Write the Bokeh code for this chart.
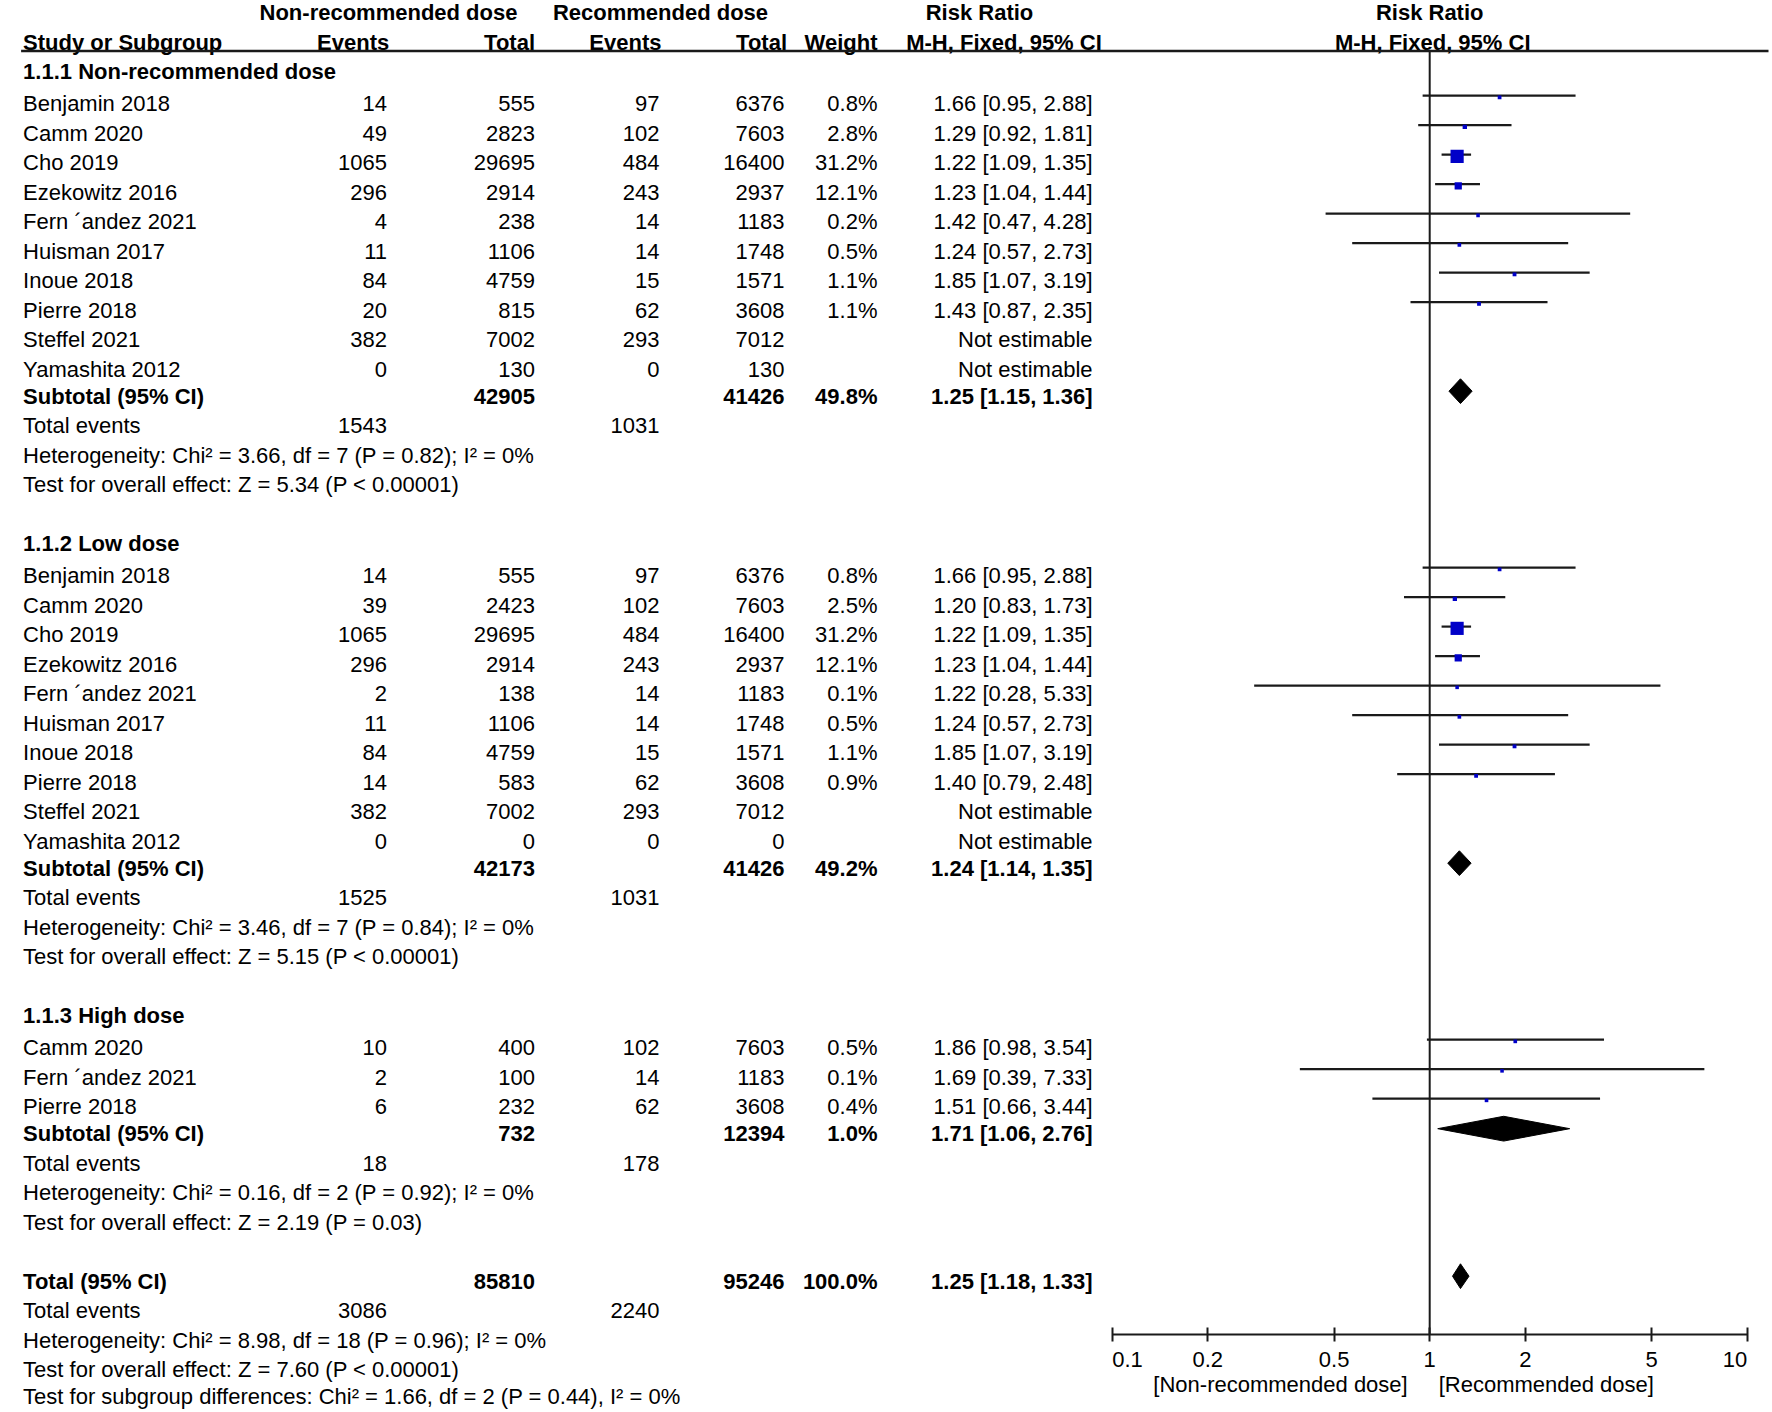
from bokeh.plotting import figure
from bokeh.models import Range1d, LogScale, LogAxis, FixedTicker
from bokeh.core.properties import value
from bokeh.embed import file_html
from bokeh.resources import INLINE

# ---------------- data ----------------
COL_GROUPS = ["Non-recommended dose", "Recommended dose"]
COL_HEADS = ["Study or Subgroup", "Events", "Total", "Events", "Total", "Weight"]
RR_HEAD = ["Risk Ratio", "M-H, Fixed, 95% CI"]

g1_title = "1.1.1 Non-recommended dose"
g1_study = ["Benjamin 2018", "Camm 2020", "Cho 2019", "Ezekowitz 2016", "Fern \u00b4andez 2021",
            "Huisman 2017", "Inoue 2018", "Pierre 2018", "Steffel 2021", "Yamashita 2012"]
g1_e1 = [14, 49, 1065, 296, 4, 11, 84, 20, 382, 0]
g1_n1 = [555, 2823, 29695, 2914, 238, 1106, 4759, 815, 7002, 130]
g1_e2 = [97, 102, 484, 243, 14, 14, 15, 62, 293, 0]
g1_n2 = [6376, 7603, 16400, 2937, 1183, 1748, 1571, 3608, 7012, 130]
g1_w = [0.8, 2.8, 31.2, 12.1, 0.2, 0.5, 1.1, 1.1, None, None]
g1_rr = [1.66, 1.29, 1.22, 1.23, 1.42, 1.24, 1.85, 1.43, None, None]
g1_lo = [0.95, 0.92, 1.09, 1.04, 0.47, 0.57, 1.07, 0.87, None, None]
g1_hi = [2.88, 1.81, 1.35, 1.44, 4.28, 2.73, 3.19, 2.35, None, None]
g1_sub = [42905, 41426, 49.8, 1.25, 1.15, 1.36]
g1_events = [1543, 1031]
g1_het = "Heterogeneity: Chi\u00b2 = 3.66, df = 7 (P = 0.82); I\u00b2 = 0%"
g1_test = "Test for overall effect: Z = 5.34 (P < 0.00001)"

g2_title = "1.1.2 Low dose"
g2_study = ["Benjamin 2018", "Camm 2020", "Cho 2019", "Ezekowitz 2016", "Fern \u00b4andez 2021",
            "Huisman 2017", "Inoue 2018", "Pierre 2018", "Steffel 2021", "Yamashita 2012"]
g2_e1 = [14, 39, 1065, 296, 2, 11, 84, 14, 382, 0]
g2_n1 = [555, 2423, 29695, 2914, 138, 1106, 4759, 583, 7002, 0]
g2_e2 = [97, 102, 484, 243, 14, 14, 15, 62, 293, 0]
g2_n2 = [6376, 7603, 16400, 2937, 1183, 1748, 1571, 3608, 7012, 0]
g2_w = [0.8, 2.5, 31.2, 12.1, 0.1, 0.5, 1.1, 0.9, None, None]
g2_rr = [1.66, 1.20, 1.22, 1.23, 1.22, 1.24, 1.85, 1.40, None, None]
g2_lo = [0.95, 0.83, 1.09, 1.04, 0.28, 0.57, 1.07, 0.79, None, None]
g2_hi = [2.88, 1.73, 1.35, 1.44, 5.33, 2.73, 3.19, 2.48, None, None]
g2_sub = [42173, 41426, 49.2, 1.24, 1.14, 1.35]
g2_events = [1525, 1031]
g2_het = "Heterogeneity: Chi\u00b2 = 3.46, df = 7 (P = 0.84); I\u00b2 = 0%"
g2_test = "Test for overall effect: Z = 5.15 (P < 0.00001)"

g3_title = "1.1.3 High dose"
g3_study = ["Camm 2020", "Fern \u00b4andez 2021", "Pierre 2018"]
g3_e1 = [10, 2, 6]
g3_n1 = [400, 100, 232]
g3_e2 = [102, 14, 62]
g3_n2 = [7603, 1183, 3608]
g3_w = [0.5, 0.1, 0.4]
g3_rr = [1.86, 1.69, 1.51]
g3_lo = [0.98, 0.39, 0.66]
g3_hi = [3.54, 7.33, 3.44]
g3_sub = [732, 12394, 1.0, 1.71, 1.06, 2.76]
g3_events = [18, 178]
g3_het = "Heterogeneity: Chi\u00b2 = 0.16, df = 2 (P = 0.92); I\u00b2 = 0%"
g3_test = "Test for overall effect: Z = 2.19 (P = 0.03)"

tot_title = "Total (95% CI)"
tot_sub = [85810, 95246, 100.0, 1.25, 1.18, 1.33]
tot_events = [3086, 2240]
tot_het = "Heterogeneity: Chi\u00b2 = 8.98, df = 18 (P = 0.96); I\u00b2 = 0%"
tot_test = "Test for overall effect: Z = 7.60 (P < 0.00001)"
tot_diff = "Test for subgroup differences: Chi\u00b2 = 1.66, df = 2 (P = 0.44), I\u00b2 = 0%"

NULL_RR = 1
TICKS = [0.1, 0.2, 0.5, 1, 2, 5, 10]
TICK_LABELS = ["0.1", "0.2", "0.5", "1", "2", "5", "10"]
FAVOURS = ["[Non-recommended dose]", "[Recommended dose]"]

# ---------------- layout / style ----------------
FONT = "Liberation Sans"
FS = "22px"
TXT = "#000000"
LINE = "#1a1a1a"
BLUE = "#0000c8"
NBSP = "\u00a0"

X_LEFT, X_RIGHT = 0, 1772          # pixel span of the canvas
Y_TOP, Y_BOT = 0, 1412
ROW0_Y, ROW_H = 71.2, 29.5         # pixel y of row 0 and row pitch
X_ONE, PX_DEC = 1429.2, 317.5      # pixel x of RR=1 and pixels per decade

NAME_X = 22.6
COL_X = [386.5, 534.5, 659.0, 784.0, 877.0]   # right edges: events, total, events, total, weight
CI_X = 1092.0
HEAD_COL_X = [388.7, 534.5, 661.0, 786.5, 877.0]
GROUP_CX = [388.0, 660.0]
RR_CX = [979.0, 1003.5]

STUDY_DY = 0.08
MARK_DY = -0.27
SQ_DY = 0.06
DIA_DY = -0.17
DIA_H = 0.42
HEAD_LINE_ROW = -0.70
AXIS_ROW = 42.8
FAV_ROW = 44.5
LAST_DY = -0.1

p = figure(width=X_RIGHT - X_LEFT, height=Y_BOT - Y_TOP,
           x_range=Range1d(X_LEFT, X_RIGHT),
           y_range=Range1d((Y_BOT - ROW0_Y) / ROW_H, (Y_TOP - ROW0_Y) / ROW_H),
           output_backend="svg", toolbar_location=None,
           x_axis_location=None, y_axis_location=None, min_border=0)
p.outline_line_color = None
p.xgrid.visible = False
p.ygrid.visible = False
p.background_fill_color = "white"
p.border_fill_color = "white"

p.extra_x_ranges = {"rr": Range1d(10 ** ((X_LEFT - X_ONE) / PX_DEC), 10 ** ((X_RIGHT - X_ONE) / PX_DEC))}
p.extra_x_scales = {"rr": LogScale()}

texts = {}


def add_text(x, y, t, align="left", style="normal"):
    d = texts.setdefault((align, style), {"x": [], "y": [], "text": []})
    d["x"].append(x)
    d["y"].append(y)
    d["text"].append(t)


marks = {"lo": [], "hi": [], "est": [], "y": [], "w": []}
dias = {"xs": [], "ys": []}


def ci_text(r, l, h):
    return f"{r:.2f} [{l:.2f}, {h:.2f}]"


def add_summary(k, title, sub, events, het, test):
    add_text(NAME_X, k, title, "left", "bold")
    add_text(COL_X[1], k, str(sub[0]), "right", "bold")
    add_text(COL_X[3], k, str(sub[1]), "right", "bold")
    add_text(COL_X[4], k, f"{sub[2]:.1f}%", "right", "bold")
    add_text(CI_X, k, ci_text(sub[3], sub[4], sub[5]), "right", "bold")
    yd = k + DIA_DY
    dias["xs"].append([sub[4], sub[3], sub[5], sub[3]])
    dias["ys"].append([yd, yd - DIA_H, yd, yd + DIA_H])
    add_text(NAME_X, k + 1, "Total events")
    add_text(COL_X[0], k + 1, str(events[0]), "right")
    add_text(COL_X[2], k + 1, str(events[1]), "right")
    add_text(NAME_X, k + 2, het)
    add_text(NAME_X, k + 3, test)


def add_group(k, title, study, e1, n1, e2, n2, w, rr, lo, hi, sub, events, het, test):
    add_text(NAME_X, k, title, "left", "bold")
    for i, s in enumerate(study):
        y = k + 1 + i + STUDY_DY
        add_text(NAME_X, y, s)
        for cx, v in zip(COL_X[:4], (e1[i], n1[i], e2[i], n2[i])):
            add_text(cx, y, str(v), "right")
        if rr[i] is None:
            add_text(CI_X, y, "Not estimable", "right")
        else:
            add_text(COL_X[4], y, f"{w[i]:.1f}%", "right")
            add_text(CI_X, y, ci_text(rr[i], lo[i], hi[i]), "right")
            marks["lo"].append(lo[i])
            marks["hi"].append(hi[i])
            marks["est"].append(rr[i])
            marks["y"].append(y + MARK_DY)
            marks["w"].append(w[i])
    add_summary(k + len(study) + 1, "Subtotal (95% CI)", sub, events, het, test)
    return k + len(study) + 6


k = 0
k = add_group(k, g1_title, g1_study, g1_e1, g1_n1, g1_e2, g1_n2, g1_w, g1_rr, g1_lo, g1_hi,
              g1_sub, g1_events, g1_het, g1_test)
k = add_group(k, g2_title, g2_study, g2_e1, g2_n1, g2_e2, g2_n2, g2_w, g2_rr, g2_lo, g2_hi,
              g2_sub, g2_events, g2_het, g2_test)
k = add_group(k, g3_title, g3_study, g3_e1, g3_n1, g3_e2, g3_n2, g3_w, g3_rr, g3_lo, g3_hi,
              g3_sub, g3_events, g3_het, g3_test)
add_summary(k, tot_title, tot_sub, tot_events, tot_het, tot_test)
add_text(NAME_X, k + 4 + LAST_DY, tot_diff)

# headers
add_text(GROUP_CX[0], -2, COL_GROUPS[0], "center", "bold")
add_text(GROUP_CX[1], -2, COL_GROUPS[1], "center", "bold")
add_text(RR_CX[0], -2, RR_HEAD[0], "center", "bold")
add_text(NAME_X, -1, COL_HEADS[0], "left", "bold")
for cx, h in zip(HEAD_COL_X, COL_HEADS[1:]):
    add_text(cx, -1, h, "right", "bold")
add_text(RR_CX[1], -1, RR_HEAD[1], "center", "bold")

for (align, style), d in texts.items():
    p.text(x=d["x"], y=d["y"], text=d["text"], text_align=align, text_baseline="middle",
           text_font=value(FONT), text_font_size=FS, text_font_style=style, text_color=TXT)

# right-hand header, centred on RR = 1
p.text(x=[NULL_RR, NULL_RR], y=[-2, -1], text=RR_HEAD, x_range_name="rr", x_offset=[0, 3],
       text_align="center", text_baseline="middle", text_font=value(FONT), text_font_size=FS,
       text_font_style="bold", text_color=TXT)

# header rule
p.segment(x0=[NAME_X - 2], x1=[X_RIGHT - 4], y0=[HEAD_LINE_ROW], y1=[HEAD_LINE_ROW],
          line_color=LINE, line_width=2.5)

# line of no effect
p.segment(x0=[NULL_RR], x1=[NULL_RR], y0=[HEAD_LINE_ROW], y1=[AXIS_ROW], x_range_name="rr",
          line_color=LINE, line_width=2)

# confidence intervals and weighted squares
p.segment(x0=marks["lo"], x1=marks["hi"], y0=marks["y"], y1=marks["y"], x_range_name="rr",
          line_color=LINE, line_width=2.2)
sizes = [3.5 + 0.31 * w for w in marks["w"]]
p.scatter(x=marks["est"], y=[y + SQ_DY for y in marks["y"]], size=sizes, marker="square",
          x_range_name="rr", fill_color=BLUE, line_color=None)

# pooled diamonds
p.patches(xs=dias["xs"], ys=dias["ys"], x_range_name="rr", fill_color="black", line_color="black",
          line_width=1)

# log axis; end labels sit inside the axis span as in the original
tick_text = list(TICK_LABELS)
tick_text[0] = NBSP * 5 + tick_text[0]
tick_text[-1] = tick_text[-1] + NBSP * 4
ax = LogAxis(x_range_name="rr", ticker=FixedTicker(ticks=TICKS, minor_ticks=[]),
             bounds=(TICKS[0], TICKS[-1]), fixed_location=AXIS_ROW,
             major_tick_in=7, major_tick_out=7, minor_tick_in=0, minor_tick_out=0,
             axis_line_width=2, axis_line_color=LINE, major_tick_line_width=2,
             major_tick_line_color=LINE,
             major_label_text_font=FONT, major_label_text_font_size=FS,
             major_label_text_color=TXT, major_label_standoff=6,
             major_label_overrides={float(t): lab for t, lab in zip(TICKS, tick_text)})
p.add_layout(ax, "below")

p.text(x=[NULL_RR], y=[FAV_ROW], text=[FAVOURS[0]], x_range_name="rr", x_offset=-22,
       text_align="right", text_baseline="middle", text_font=value(FONT), text_font_size=FS,
       text_color=TXT)
p.text(x=[NULL_RR], y=[FAV_ROW], text=[FAVOURS[1]], x_range_name="rr", x_offset=9,
       text_align="left", text_baseline="middle", text_font=value(FONT), text_font_size=FS,
       text_color=TXT)

open("out.html", "w").write(file_html(p, INLINE))
